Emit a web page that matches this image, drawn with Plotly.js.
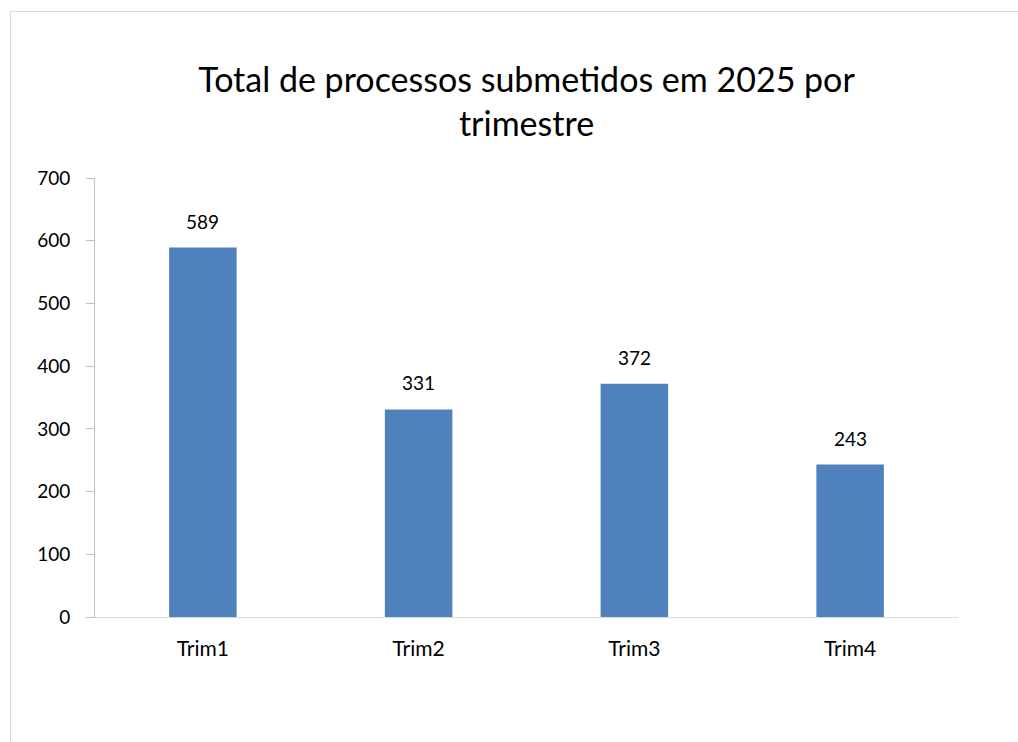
<!DOCTYPE html>
<html>
<head>
<meta charset="utf-8">
<script src="https://cdn.plot.ly/plotly-3.0.1.min.js"></script>
<style>
  body { margin: 0; overflow: hidden; background: #fff; }
  #chart { position: absolute; left: 0; top: 0; width: 1018px; height: 742px; }
  #frame { position: absolute; left: 10px; top: 11px; width: 1100px; height: 800px;
           border: 1px solid #d9d9d9; pointer-events: none; }
</style>
</head>
<body>
<div id="chart"></div>
<div id="frame"></div>
<script>
// Chart data
const quarters = ['Trim1', 'Trim2', 'Trim3', 'Trim4'];
const processCounts = [589, 331, 372, 243];
const yTicks = [0, 100, 200, 300, 400, 500, 600, 700];

const barColor = '#4f81bd';
const fontFamily = 'Lato, "Open Sans", sans-serif';

// Bars
const data = [{
    x: quarters,
    y: processCounts,
    type: 'bar',
    marker: { color: barColor },
    hoverinfo: 'x+y',
}];

// Value labels above each bar
const labels = quarters.map((q, i) => ({
    x: q,
    y: processCounts[i],
    text: String(processCounts[i]),
    showarrow: false,
    yanchor: 'bottom',
    yshift: 13,
    font: { family: fontFamily, size: 19, color: '#000' },
}));

const layout = {
    width: 1018,
    height: 742,
    margin: { l: 95, r: 60, t: 177.5, b: 125 },
    paper_bgcolor: '#fff',
    plot_bgcolor: '#fff',
    showlegend: false,
    bargap: 0.687,
    font: { family: fontFamily, size: 19, color: '#000' },
    title: {
        text: 'Total de processos submetidos em 2025 por<br>trimestre',
        font: { family: fontFamily, size: 34, color: '#000' },
        x: 0.5,
        xref: 'paper',
        xanchor: 'center',
        y: 1 - 92 / 742,
        yref: 'container',
        yanchor: 'top',
    },
    xaxis: {
        showline: true,
        linecolor: '#d9d9d9',
        linewidth: 1,
        ticks: '',
        showgrid: false,
        zeroline: false,
        ticklabelstandoff: 13,
        tickfont: { family: fontFamily, size: 21, color: '#000' },
    },
    yaxis: {
        range: [0, 700],
        tickvals: yTicks,
        showline: true,
        linecolor: '#bfbfbf',
        linewidth: 1,
        ticks: 'outside',
        ticklen: 8,
        tickcolor: '#bfbfbf',
        showgrid: false,
        zeroline: false,
        ticklabelstandoff: 12,
        tickfont: { family: fontFamily, size: 19, color: '#000' },
    },
    annotations: labels,
};

Plotly.newPlot('chart', data, layout, { displayModeBar: false, staticPlot: true });
</script>
</body>
</html>
